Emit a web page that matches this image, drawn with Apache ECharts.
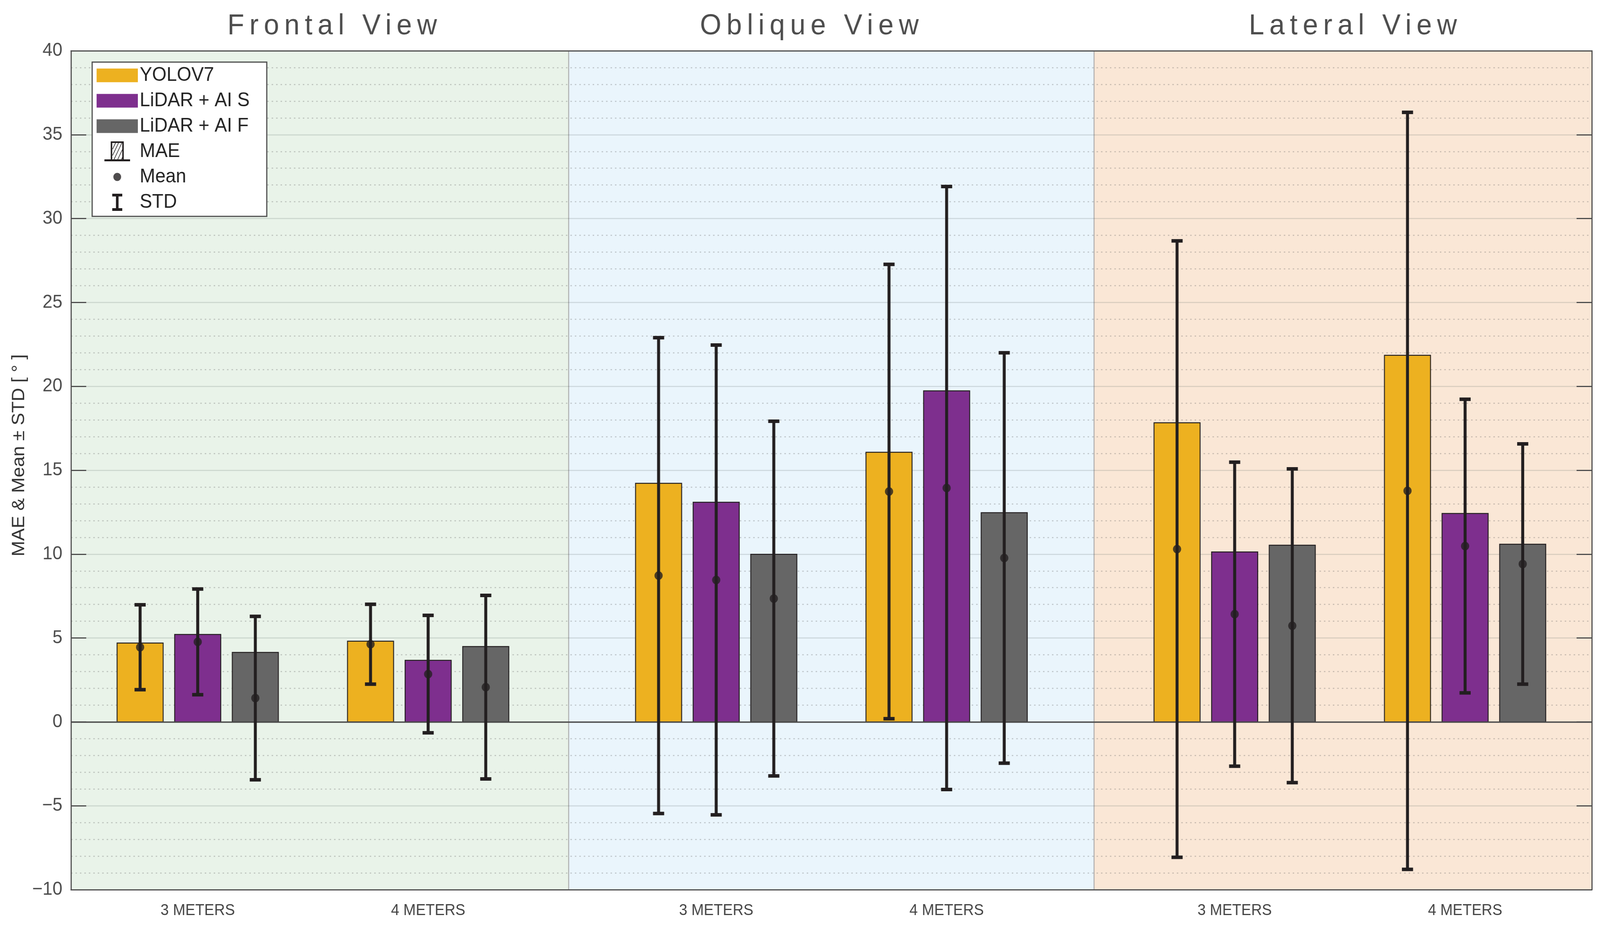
<!DOCTYPE html>
<html>
<head>
<meta charset="utf-8">
<script src="https://cdn.jsdelivr.net/npm/echarts@6/dist/echarts.min.js"></script>
<style>
html,body{margin:0;padding:0;background:#fff;overflow:hidden;width:100%;height:100%}
#c{width:4306px;height:2371px;position:absolute;left:0;top:0;transform-origin:0 0}
</style>
</head>
<body>
<div id="c"></div>
<script>
// ---------------- DATA ----------------
const views = ['Frontal View', 'Oblique View', 'Lateral View'];
const distances = ['3 METERS', '4 METERS'];
const methods = ['YOLOV7', 'LiDAR + AI S', 'LiDAR + AI F'];
// order: Frontal 3m, Frontal 4m, Oblique 3m, Oblique 4m, Lateral 3m, Lateral 4m
const maeYOLOV7  = [4.70, 4.81, 14.22, 16.07, 17.83, 21.85];
const maeLidarS  = [5.21, 3.67, 13.09, 19.73, 10.13, 12.42];
const maeLidarF  = [4.14, 4.49,  9.99, 12.47, 10.53, 10.59];
const meanYOLOV7 = [4.45, 4.63,  8.72, 13.73, 10.30, 13.77];
const meanLidarS = [4.77, 2.85,  8.46, 13.94,  6.42, 10.48];
const meanLidarF = [1.42, 2.07,  7.35,  9.77,  5.73,  9.41];
const stdYOLOV7  = [2.53, 2.38, 14.18, 13.54, 18.37, 22.56];
const stdLidarS  = [3.15, 3.50, 14.00, 17.97,  9.06,  8.75];
const stdLidarF  = [4.87, 5.47, 10.57, 12.23,  9.35,  7.16];
const yTickValues = [-10, -5, 0, 5, 10, 15, 20, 25, 30, 35, 40];

// ---------------- LAYOUT / STYLE ----------------
const W = 4306, H = 2371;
const FONT = '"Liberation Sans", Arial, Helvetica, sans-serif';
const colors = ['#EDB120', '#7E2F8E', '#666666'];
const panelColors = ['#E9F3E9', '#EAF5FC', '#FAE7D6'];
const INK = '#231F20';
const X_MIN = 0.45, X_MAX = 7.05;
const VIEW_STEP = 2.25, BAR_OFFSET = 0.25, BAR_W = 0.2;
const panelEdges = [X_MIN, 2.61, 4.89, X_MAX];

// letter spacing (canvas property) for the panel headings only
(function () {
  const proto = CanvasRenderingContext2D.prototype;
  const orig = proto.fillText;
  proto.fillText = function (t, x, y, mw) {
    const isTitle = typeof this.font === 'string' && /(^|\s)74px/.test(this.font);
    if ('letterSpacing' in this) this.letterSpacing = isTitle ? '14px' : '0px';
    const dx = isTitle ? 7 : 0;
    const r = mw === undefined ? orig.call(this, t, x + dx, y) : orig.call(this, t, x + dx, y, mw);
    if ('letterSpacing' in this) this.letterSpacing = '0px';
    return r;
  };
})();

const el = document.getElementById('c');
const sx = (window.innerWidth || W) / W, sy = (window.innerHeight || H) / H;
el.style.transform = 'scale(' + sx + ',' + sy + ')';

const maeAll = [maeYOLOV7, maeLidarS, maeLidarF];
const meanAll = [meanYOLOV7, meanLidarS, meanLidarF];
const stdAll = [stdYOLOV7, stdLidarS, stdLidarF];

function groupX(i) { return 1 + Math.floor(i / 2) * VIEW_STEP + (i % 2); }
const groupPositions = maeYOLOV7.map((_, i) => groupX(i));
const groupLabels = groupPositions.map((_, i) => distances[i % 2]);

function barRender(color) {
  return function (params, api) {
    const x = api.value(0), y = api.value(1);
    const p1 = api.coord([x - BAR_W / 2, y]);
    const p0 = api.coord([x + BAR_W / 2, 0]);
    return {
      type: 'rect',
      shape: { x: p1[0], y: Math.min(p1[1], p0[1]), width: p0[0] - p1[0], height: Math.abs(p0[1] - p1[1]) },
      style: { fill: color, stroke: INK, lineWidth: 2.5 }
    };
  };
}

const barSeries = methods.map((name, m) => ({
  name: name,
  type: 'custom',
  coordinateSystem: 'cartesian2d',
  z: 2,
  itemStyle: { color: colors[m] },
  encode: { x: 0, y: 1 },
  data: maeAll[m].map((v, i) => [groupX(i) + (m - 1) * BAR_OFFSET, v]),
  renderItem: barRender(colors[m])
}));

const errData = [];
const meanData = [];
methods.forEach((name, m) => {
  meanAll[m].forEach((v, i) => {
    const x = groupX(i) + (m - 1) * BAR_OFFSET;
    errData.push([x, v, stdAll[m][i]]);
    meanData.push([x, v]);
  });
});

const chart = echarts.init(el, null, { renderer: 'canvas', width: W, height: H, devicePixelRatio: 1 });

const tiny = (x, y) => `M${x} ${y}h0.01v0.01h-0.01Z`;
const frame = tiny(0, 0) + tiny(110.99, 51.99);
const iconRect = 'path://M0 8.5H111V43.5H0Z' + frame;
const iconMAE = 'path://' + frame +
  'M38 0H73V49H38Z M42 4V46H69V4Z' +
  'M42 20L50 4L51.8 4L43.8 20Z' +
  'M42 36L58 4L59.8 4L43.8 36Z' +
  'M46 46L67 4L68.8 4L47.8 46Z' +
  'M56 46L69 20L69 23.6L57.8 46Z' +
  'M66 46L69 40L69 43.6L67.8 46Z' +
  'M21 46H90V51H21Z';
const iconMean = 'path://' + frame + 'M45 26a10.5 10.5 0 1 0 21 0a10.5 10.5 0 1 0 -21 0Z';
const iconSTD = 'path://' + frame + 'M42 4H69V11H59V41H69V48H42V41H52V11H42Z';

const titleStyle = (t) => ({ text: t, font: '74px ' + FONT, fill: '#4D4D4D', align: 'center', verticalAlign: 'middle' });

const option = {
  animation: false,
  backgroundColor: '#ffffff',
  grid: { left: 191, right: 22, top: 130, bottom: 93, containLabel: false },
  legend: {
    orient: 'vertical',
    left: 248, top: 159,
    padding: [8, 46, 10, 12],
    itemWidth: 111, itemHeight: 52, itemGap: 13,
    backgroundColor: '#ffffff',
    borderColor: '#4D4D4D', borderWidth: 3, borderRadius: 0,
    selectedMode: false,
    textStyle: { fontFamily: FONT, fontSize: 50, color: '#222222', lineHeight: 52 },
    itemStyle: { borderWidth: 0 },
    data: [
      { name: methods[0], icon: iconRect, itemStyle: { color: colors[0] } },
      { name: methods[1], icon: iconRect, itemStyle: { color: colors[1] } },
      { name: methods[2], icon: iconRect, itemStyle: { color: colors[2] } },
      { name: 'MAE', icon: iconMAE, itemStyle: { color: INK } },
      { name: 'Mean', icon: iconMean, itemStyle: { color: INK } },
      { name: 'STD', icon: iconSTD, itemStyle: { color: INK } }
    ]
  },
  graphic: [
    { type: 'text', x: 894, y: 68, style: titleStyle(views[0]) },
    { type: 'text', x: 2178, y: 68, style: titleStyle(views[1]) },
    { type: 'text', x: 3641, y: 68, style: titleStyle(views[2]) }
  ],
  xAxis: [
    {
      type: 'value', min: X_MIN, max: X_MAX, position: 'bottom', z: 1,
      axisLine: { show: true, onZero: false, lineStyle: { color: '#4D4D4D', width: 3 } },
      axisTick: { show: false },
      splitLine: { show: false },
      axisLabel: {
        customValues: groupPositions,
        margin: 34,
        fontFamily: FONT, fontSize: 40, color: '#444444',
        formatter: function (v) {
          const k = groupPositions.findIndex(p => Math.abs(p - v) < 1e-6);
          return k >= 0 ? groupLabels[k] : '';
        }
      }
    },
    {
      type: 'value', min: X_MIN, max: X_MAX, position: 'top', z: 1,
      axisLine: { show: true, onZero: false, lineStyle: { color: '#4D4D4D', width: 3 } },
      axisTick: { show: false }, axisLabel: { show: false }, splitLine: { show: false }
    }
  ],
  yAxis: [
    {
      type: 'value', min: yTickValues[0], max: yTickValues[yTickValues.length - 1], interval: 5, position: 'left', z: 1,
      name: 'MAE & Mean ± STD [ ° ]',
      nameLocation: 'middle', nameRotate: 90, nameGap: 110,
      nameTextStyle: { fontFamily: FONT, fontSize: 48, color: '#333333', padding: [0, 0, 0, 76] },
      axisLine: { show: true, onZero: false, lineStyle: { color: '#4D4D4D', width: 3 } },
      axisTick: { show: true, inside: true, length: 41, lineStyle: { color: '#4D4D4D', width: 3 } },
      axisLabel: {
        margin: 23, fontFamily: FONT, fontSize: 48, color: '#4D4D4D',
        formatter: v => (v < 0 ? '\u2212' + Math.abs(v) : String(v))
      },
      splitLine: { show: true, lineStyle: { color: 'rgba(70,80,80,0.16)', width: 3, type: 'solid' } },
      minorTick: { show: false, splitNumber: 5 },
      minorSplitLine: { show: true, lineStyle: { color: 'rgba(90,90,90,0.28)', width: 3, type: [4, 8] } }
    },
    {
      type: 'value', min: yTickValues[0], max: yTickValues[yTickValues.length - 1], interval: 5, position: 'right', z: 1,
      axisLine: { show: true, onZero: false, lineStyle: { color: '#4D4D4D', width: 3 } },
      axisTick: { show: true, inside: true, length: 41, lineStyle: { color: '#4D4D4D', width: 3 } },
      axisLabel: { show: false }, splitLine: { show: false }
    }
  ],
  series: [
    {
      name: 'panels', type: 'line', data: [], silent: true,
      markArea: {
        silent: true, z: 0,
        data: views.map((v, k) => [
          { xAxis: panelEdges[k], yAxis: yTickValues[0], itemStyle: { color: panelColors[k], borderColor: '#A3A3A3', borderWidth: 2 } },
          { xAxis: panelEdges[k + 1], yAxis: yTickValues[yTickValues.length - 1] }
        ])
      },
      markLine: {
        silent: true, z: 2.5, symbol: 'none', label: { show: false },
        lineStyle: { color: '#4D4D4D', width: 3.5, type: 'solid' },
        data: [{ yAxis: 0 }]
      }
    },
    ...barSeries,
    { name: 'MAE', type: 'custom', data: [], renderItem: () => null },
    {
      name: 'STD', type: 'custom', coordinateSystem: 'cartesian2d', z: 3,
      itemStyle: { color: INK },
      encode: { x: 0, y: 1 },
      data: errData,
      renderItem: function (params, api) {
        const x = api.value(0), m = api.value(1), s = api.value(2);
        const top = api.coord([x, m + s]);
        const bot = api.coord([x, m - s]);
        return {
          type: 'group',
          children: [
            { type: 'line', shape: { x1: top[0], y1: top[1], x2: bot[0], y2: bot[1] }, style: { stroke: INK, lineWidth: 8 } },
            { type: 'rect', shape: { x: top[0] - 15, y: top[1] - 4.5, width: 30, height: 9 }, style: { fill: INK } },
            { type: 'rect', shape: { x: bot[0] - 15, y: bot[1] - 4.5, width: 30, height: 9 }, style: { fill: INK } }
          ]
        };
      }
    },
    {
      name: 'Mean', type: 'scatter', z: 4, symbol: 'circle', symbolSize: 22,
      itemStyle: { color: INK },
      data: meanData
    }
  ]
};
chart.setOption(option);
</script>
</body>
</html>
